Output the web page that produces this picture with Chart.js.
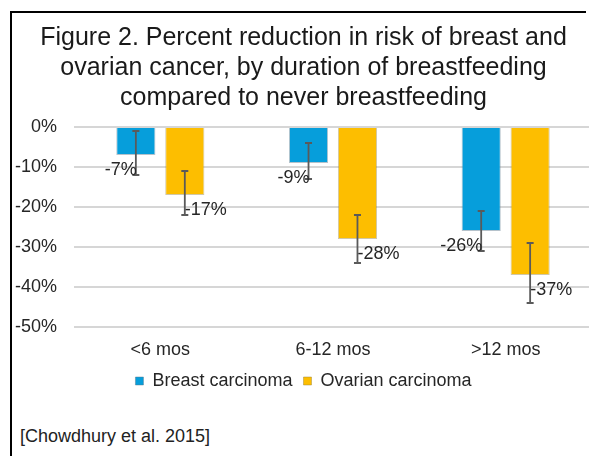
<!DOCTYPE html>
<html>
<head>
<meta charset="utf-8">
<script src="https://cdn.jsdelivr.net/npm/chart.js@4.4.1/dist/chart.umd.min.js"></script>
<style>
  html, body { margin: 0; padding: 0; background: #fff; }
  .page { position: relative; width: 589px; height: 456px; overflow: hidden; }
  .hline { position: absolute; left: 10px; top: 11px; width: 576px; height: 2px; background: #000; }
  .vline { position: absolute; left: 10px; top: 11px; width: 2px; height: 460px; background: #000; }
  #chart { position: absolute; left: 0; top: 0; }
  .cite { position: absolute; left: 20px; top: 426px; font: 18px "Liberation Sans", Arial, sans-serif;
    line-height: 21px; color: #222; }
</style>
</head>
<body>
<div class="page">
  <div class="hline"></div>
  <div class="vline"></div>
  <canvas id="chart" width="614" height="400"></canvas>
  <div class="cite">[Chowdhury et al. 2015]</div>
</div>
<script>
const titleLines = [
  "Figure 2. Percent reduction in risk of breast and",
  "ovarian cancer, by duration of breastfeeding",
  "compared to never breastfeeding",
];
const categories = ["<6 mos", "6-12 mos", ">12 mos"];
const breast = [-7, -9, -26];
const breastLow = [-12, -13, -31];
const breastHigh = [-1, -4, -21];
const ovarian = [-17, -28, -37];
const ovarianLow = [-22, -34, -44];
const ovarianHigh = [-11, -22, -29];
const yTicks = [0, -10, -20, -30, -40, -50];

const FONT = '"Liberation Sans", Arial, sans-serif';

// error bars + value labels drawn from the bar elements
const extras = {
  id: "extras",
  afterDatasetsDraw(chart) {
    const { ctx } = chart;
    const y = chart.scales.y;
    const errs = [[breastLow, breastHigh], [ovarianLow, ovarianHigh]];
    chart.data.datasets.forEach((ds, i) => {
      const meta = chart.getDatasetMeta(i);
      meta.data.forEach((bar, j) => {
        const top = y.getPixelForValue(errs[i][1][j]);
        const bot = y.getPixelForValue(errs[i][0][j]);
        ctx.save();
        ctx.strokeStyle = "#5a5a5a";
        ctx.lineWidth = 1.8;
        ctx.beginPath();
        ctx.moveTo(bar.x, top);
        ctx.lineTo(bar.x, bot);
        ctx.moveTo(bar.x - 3.5, top);
        ctx.lineTo(bar.x + 3.5, top);
        ctx.moveTo(bar.x - 3.5, bot);
        ctx.lineTo(bar.x + 3.5, bot);
        ctx.stroke();
        ctx.fillStyle = "#262626";
        ctx.font = "18px " + FONT;
        ctx.textBaseline = "middle";
        ctx.textAlign = i === 0 ? "right" : "left";
        ctx.fillText(ds.data[j] + "%", bar.x + (i === 0 ? 1 : 0), bar.y + 15);
        ctx.restore();
      });
    });
  },
};

new Chart(document.getElementById("chart"), {
  type: "bar",
  data: {
    labels: categories,
    datasets: [
      { label: "Breast carcinoma", data: breast, backgroundColor: "#069edb",
        borderColor: "rgba(90,120,140,0.45)", borderWidth: 1 },
      { label: "Ovarian carcinoma", data: ovarian, backgroundColor: "#fdbe00",
        borderColor: "rgba(150,130,60,0.45)", borderWidth: 1 },
    ],
  },
  options: {
    responsive: false,
    animation: false,
    layout: { padding: { left: 15, right: 22, top: 0, bottom: 0 } },
    categoryPercentage: 0.567,
    barPercentage: 0.8,
    scales: {
      x: {
        grid: { display: false, drawTicks: false },
        border: { display: false },
        ticks: { color: "#262626", font: { size: 18, family: FONT }, padding: 12 },
        afterFit(axis) { axis.height = 34; },
      },
      y: {
        min: -50,
        max: 0,
        afterBuildTicks(axis) {
          axis.ticks = yTicks.map((v) => ({ value: v }));
        },
        grid: { color: "#d6d6d6", lineWidth: 2, drawTicks: false },
        border: { display: false },
        ticks: { color: "#262626", font: { size: 18, family: FONT }, padding: 17,
          callback: (v) => v + "%" },
        afterFit(axis) { axis.width = 59; },
      },
    },
    plugins: {
      title: {
        display: true,
        text: titleLines,
        color: "#1a1a1a",
        font: { size: 25, family: FONT, weight: "normal", lineHeight: 1.2 },
        padding: { top: 23, bottom: 14 },
      },
      legend: {
        position: "bottom",
        labels: { boxWidth: 8, boxHeight: 8, padding: 11, color: "#262626",
          font: { size: 18, family: FONT } },
      },
      tooltip: { enabled: false },
    },
  },
  plugins: [extras],
});
</script>
</body>
</html>
